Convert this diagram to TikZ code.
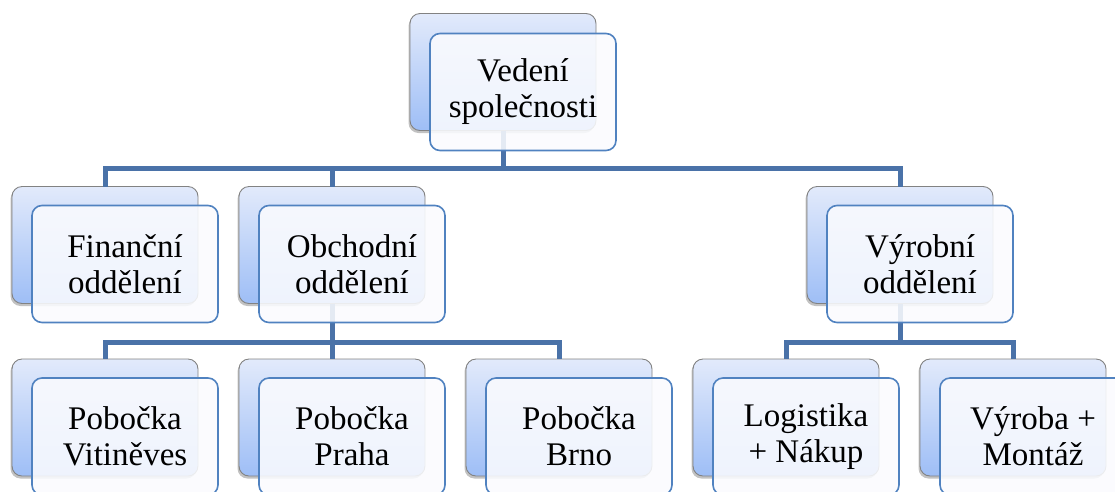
\documentclass[tikz,border=0pt]{standalone}
\usepackage{fontspec}
\setmainfont{Liberation Serif}
\usetikzlibrary{shadows}
\definecolor{linec}{RGB}{74,114,168}
\definecolor{frontb}{RGB}{80,130,192}
\definecolor{backtop}{RGB}{226,234,251}
\definecolor{backbot}{RGB}{158,190,246}
\definecolor{backb}{RGB}{130,130,130}
\definecolor{frontf}{RGB}{250,251,254}
\tikzset{
  backbox/.style={rectangle, rounded corners=10pt, draw=backb, line width=0.9pt,
    top color=backtop, bottom color=backbot,
    minimum width=186pt, minimum height=117pt, anchor=north west,
    inner sep=0pt, outer sep=0pt,
    drop shadow={shadow xshift=-1.5pt, shadow yshift=-2.5pt, opacity=0.4, fill=black!60}},
  frontbox/.style={rectangle, rounded corners=10pt, draw=frontb, line width=1.6pt,
    fill=frontf, fill opacity=0.88, text opacity=1, draw opacity=1,
    minimum width=186pt, minimum height=117pt, anchor=north west,
    inner sep=0pt, outer sep=0pt, align=center,
    font=\fontsize{33}{36}\selectfont},
  conn/.style={draw=linec, line width=5pt, line join=miter}
}
\begin{document}
\begin{tikzpicture}[x=1pt,y=-1pt]
\clip (0,0) rectangle (1115,491);
% back boxes
\node[backbox] (b0) at (410,13.5) {};
\node[backbox] (b1) at (12,186.5) {};
\node[backbox] (b2) at (239,186.5) {};
\node[backbox] (b3) at (807,186.5) {};
\node[backbox] (b4) at (12,359) {};
\node[backbox] (b5) at (239,359) {};
\node[backbox] (b6) at (466,359) {};
\node[backbox] (b7) at (693,359) {};
\node[backbox] (b8) at (920,359) {};
% bar levels
\coordinate (bar1) at (0,168.5);
\coordinate (bar2) at (0,342.5);
% connectors
\draw[conn] (b0.south) |- (bar1 -| b1.north) -- (b1.north);
\draw[conn] (b0.south) |- (bar1 -| b2.north) -- (b2.north);
\draw[conn] (b0.south) |- (bar1 -| b3.north) -- (b3.north);
\draw[conn] (b2.south) |- (bar2 -| b4.north) -- (b4.north);
\draw[conn] (b2.south) |- (bar2 -| b5.north) -- (b5.north);
\draw[conn] (b2.south) |- (bar2 -| b6.north) -- (b6.north);
\draw[conn] (b3.south) |- (bar2 -| b7.north) -- (b7.north);
\draw[conn] (b3.south) |- (bar2 -| b8.north) -- (b8.north);
% front boxes
\node[frontbox] (f0) at (430,33.5) {Vedení\\společnosti};
\node[frontbox] (f1) at (32,205.5) {Finanční\\oddělení};
\node[frontbox] (f2) at (259,205.5) {Obchodní\\oddělení};
\node[frontbox] (f3) at (827,205.5) {Výrobní\\oddělení};
\node[frontbox] (f4) at (32,378) {Pobočka\\Vitiněves};
\node[frontbox] (f5) at (259,378) {Pobočka\\Praha};
\node[frontbox] (f6) at (486,378) {Pobočka\\Brno};
\node[frontbox] (f7) at (713,378) {Logistika\\+ Nákup};
\node[frontbox] (f8) at (940,378) {Výroba +\\Montáž};
\end{tikzpicture}
\end{document}
